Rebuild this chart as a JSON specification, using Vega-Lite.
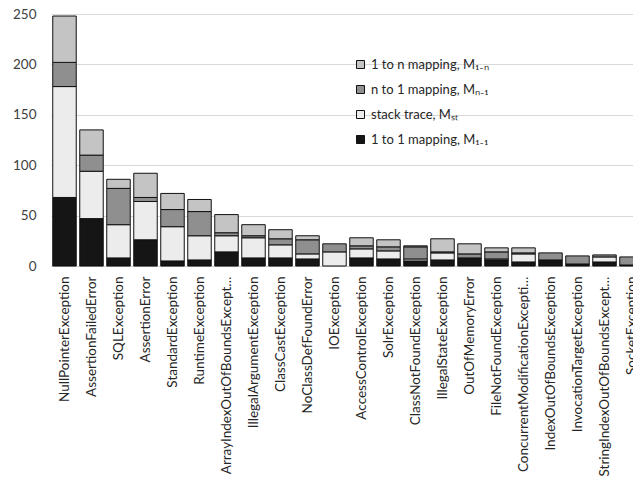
{
  "$schema": "https://vega.github.io/schema/vega-lite/v6.json",
  "autosize": "none",
  "padding": {"left": 51, "top": 14, "right": 0, "bottom": 218},
  "width": 594,
  "height": 252,
  "background": "white",
  "config": {
    "view": {"stroke": null},
    "font": "Lato",
    "axis": {"labelFont": "Lato", "labelColor": "#262626"}
  },
  "data": {
    "values": [
      {"e": "NullPointerException", "t": "1 to 1 mapping, M₁₋₁", "v": 68},
      {"e": "NullPointerException", "t": "stack trace, Mₛₜ", "v": 110},
      {"e": "NullPointerException", "t": "n to 1 mapping, Mₙ₋₁", "v": 24},
      {"e": "NullPointerException", "t": "1 to n mapping, M₁₋ₙ", "v": 46},
      {"e": "AssertionFailedError", "t": "1 to 1 mapping, M₁₋₁", "v": 47},
      {"e": "AssertionFailedError", "t": "stack trace, Mₛₜ", "v": 47},
      {"e": "AssertionFailedError", "t": "n to 1 mapping, Mₙ₋₁", "v": 16},
      {"e": "AssertionFailedError", "t": "1 to n mapping, M₁₋ₙ", "v": 25},
      {"e": "SQLException", "t": "1 to 1 mapping, M₁₋₁", "v": 8},
      {"e": "SQLException", "t": "stack trace, Mₛₜ", "v": 33},
      {"e": "SQLException", "t": "n to 1 mapping, Mₙ₋₁", "v": 36},
      {"e": "SQLException", "t": "1 to n mapping, M₁₋ₙ", "v": 9},
      {"e": "AssertionError", "t": "1 to 1 mapping, M₁₋₁", "v": 26},
      {"e": "AssertionError", "t": "stack trace, Mₛₜ", "v": 38},
      {"e": "AssertionError", "t": "n to 1 mapping, Mₙ₋₁", "v": 4},
      {"e": "AssertionError", "t": "1 to n mapping, M₁₋ₙ", "v": 24},
      {"e": "StandardException", "t": "1 to 1 mapping, M₁₋₁", "v": 5},
      {"e": "StandardException", "t": "stack trace, Mₛₜ", "v": 34},
      {"e": "StandardException", "t": "n to 1 mapping, Mₙ₋₁", "v": 17},
      {"e": "StandardException", "t": "1 to n mapping, M₁₋ₙ", "v": 16},
      {"e": "RuntimeException", "t": "1 to 1 mapping, M₁₋₁", "v": 6},
      {"e": "RuntimeException", "t": "stack trace, Mₛₜ", "v": 24},
      {"e": "RuntimeException", "t": "n to 1 mapping, Mₙ₋₁", "v": 24},
      {"e": "RuntimeException", "t": "1 to n mapping, M₁₋ₙ", "v": 12},
      {"e": "ArrayIndexOutOfBoundsException", "t": "1 to 1 mapping, M₁₋₁", "v": 14},
      {"e": "ArrayIndexOutOfBoundsException", "t": "stack trace, Mₛₜ", "v": 16},
      {"e": "ArrayIndexOutOfBoundsException", "t": "n to 1 mapping, Mₙ₋₁", "v": 3},
      {"e": "ArrayIndexOutOfBoundsException", "t": "1 to n mapping, M₁₋ₙ", "v": 18},
      {"e": "IllegalArgumentException", "t": "1 to 1 mapping, M₁₋₁", "v": 8},
      {"e": "IllegalArgumentException", "t": "stack trace, Mₛₜ", "v": 20},
      {"e": "IllegalArgumentException", "t": "n to 1 mapping, Mₙ₋₁", "v": 2},
      {"e": "IllegalArgumentException", "t": "1 to n mapping, M₁₋ₙ", "v": 11},
      {"e": "ClassCastException", "t": "1 to 1 mapping, M₁₋₁", "v": 8},
      {"e": "ClassCastException", "t": "stack trace, Mₛₜ", "v": 13},
      {"e": "ClassCastException", "t": "n to 1 mapping, Mₙ₋₁", "v": 6},
      {"e": "ClassCastException", "t": "1 to n mapping, M₁₋ₙ", "v": 9},
      {"e": "NoClassDefFoundError", "t": "1 to 1 mapping, M₁₋₁", "v": 7},
      {"e": "NoClassDefFoundError", "t": "stack trace, Mₛₜ", "v": 5},
      {"e": "NoClassDefFoundError", "t": "n to 1 mapping, Mₙ₋₁", "v": 14},
      {"e": "NoClassDefFoundError", "t": "1 to n mapping, M₁₋ₙ", "v": 4},
      {"e": "IOException", "t": "stack trace, Mₛₜ", "v": 14},
      {"e": "IOException", "t": "n to 1 mapping, Mₙ₋₁", "v": 8},
      {"e": "AccessControlException", "t": "1 to 1 mapping, M₁₋₁", "v": 8},
      {"e": "AccessControlException", "t": "stack trace, Mₛₜ", "v": 9},
      {"e": "AccessControlException", "t": "n to 1 mapping, Mₙ₋₁", "v": 3},
      {"e": "AccessControlException", "t": "1 to n mapping, M₁₋ₙ", "v": 8},
      {"e": "SolrException", "t": "1 to 1 mapping, M₁₋₁", "v": 7},
      {"e": "SolrException", "t": "stack trace, Mₛₜ", "v": 8},
      {"e": "SolrException", "t": "n to 1 mapping, Mₙ₋₁", "v": 4},
      {"e": "SolrException", "t": "1 to n mapping, M₁₋ₙ", "v": 7},
      {"e": "ClassNotFoundException", "t": "1 to 1 mapping, M₁₋₁", "v": 5},
      {"e": "ClassNotFoundException", "t": "stack trace, Mₛₜ", "v": 2},
      {"e": "ClassNotFoundException", "t": "n to 1 mapping, Mₙ₋₁", "v": 12},
      {"e": "ClassNotFoundException", "t": "1 to n mapping, M₁₋ₙ", "v": 1},
      {"e": "IllegalStateException", "t": "1 to 1 mapping, M₁₋₁", "v": 6},
      {"e": "IllegalStateException", "t": "stack trace, Mₛₜ", "v": 7},
      {"e": "IllegalStateException", "t": "n to 1 mapping, Mₙ₋₁", "v": 1},
      {"e": "IllegalStateException", "t": "1 to n mapping, M₁₋ₙ", "v": 13},
      {"e": "OutOfMemoryError", "t": "1 to 1 mapping, M₁₋₁", "v": 8},
      {"e": "OutOfMemoryError", "t": "n to 1 mapping, Mₙ₋₁", "v": 4},
      {"e": "OutOfMemoryError", "t": "1 to n mapping, M₁₋ₙ", "v": 10},
      {"e": "FileNotFoundException", "t": "1 to 1 mapping, M₁₋₁", "v": 6},
      {"e": "FileNotFoundException", "t": "stack trace, Mₛₜ", "v": 1},
      {"e": "FileNotFoundException", "t": "n to 1 mapping, Mₙ₋₁", "v": 7},
      {"e": "FileNotFoundException", "t": "1 to n mapping, M₁₋ₙ", "v": 4},
      {"e": "ConcurrentModificationException", "t": "1 to 1 mapping, M₁₋₁", "v": 4},
      {"e": "ConcurrentModificationException", "t": "stack trace, Mₛₜ", "v": 8},
      {"e": "ConcurrentModificationException", "t": "n to 1 mapping, Mₙ₋₁", "v": 1},
      {"e": "ConcurrentModificationException", "t": "1 to n mapping, M₁₋ₙ", "v": 5},
      {"e": "IndexOutOfBoundsException", "t": "1 to 1 mapping, M₁₋₁", "v": 6},
      {"e": "IndexOutOfBoundsException", "t": "n to 1 mapping, Mₙ₋₁", "v": 7},
      {"e": "InvocationTargetException", "t": "1 to 1 mapping, M₁₋₁", "v": 2},
      {"e": "InvocationTargetException", "t": "n to 1 mapping, Mₙ₋₁", "v": 8},
      {"e": "StringIndexOutOfBoundsException", "t": "1 to 1 mapping, M₁₋₁", "v": 4},
      {"e": "StringIndexOutOfBoundsException", "t": "stack trace, Mₛₜ", "v": 5},
      {"e": "StringIndexOutOfBoundsException", "t": "n to 1 mapping, Mₙ₋₁", "v": 2},
      {"e": "SocketException", "t": "1 to 1 mapping, M₁₋₁", "v": 1},
      {"e": "SocketException", "t": "n to 1 mapping, Mₙ₋₁", "v": 8}
    ]
  },
  "transform": [
    {"calculate": "indexof(['1 to 1 mapping, M₁₋₁', 'stack trace, Mₛₜ', 'n to 1 mapping, Mₙ₋₁', '1 to n mapping, M₁₋ₙ'], datum.t)", "as": "k"}
  ],
  "mark": {"type": "bar", "stroke": "#111111", "strokeWidth": 1},
  "encoding": {
    "x": {
      "field": "e",
      "type": "nominal",
      "sort": null,
      "title": null,
      "scale": {"paddingInner": 0.13, "paddingOuter": 0.065},
      "axis": {
        "labelAngle": -90,
        "labelFontSize": 13.5,
        "labelPadding": 10,
        "labelLimit": 200,
        "ticks": false,
        "tickSize": 0,
        "domainColor": "#c8c8c8",
        "domainWidth": 1
      }
    },
    "y": {
      "field": "v",
      "type": "quantitative",
      "stack": "zero",
      "title": null,
      "scale": {"domain": [0, 250]},
      "axis": {
        "values": [0, 50, 100, 150, 200, 250],
        "labelFontSize": 13.5,
        "labelPadding": 15,
        "ticks": false,
        "tickSize": 0,
        "domain": false,
        "gridColor": "#d9d9d9",
        "labelColor": "#404040"
      }
    },
    "order": {"field": "k", "type": "quantitative", "sort": "ascending"},
    "color": {
      "field": "t",
      "type": "nominal",
      "sort": ["1 to n mapping, M₁₋ₙ", "n to 1 mapping, Mₙ₋₁", "stack trace, Mₛₜ", "1 to 1 mapping, M₁₋₁"],
      "scale": {
        "range": ["#c4c4c4", "#8f8f8f", "#ececec", "#151515"]
      },
      "legend": {
        "title": null,
        "orient": "none",
        "legendX": 303,
        "legendY": 44,
        "symbolType": "square",
        "symbolSize": 64,
        "symbolStrokeColor": "#111111",
        "symbolStrokeWidth": 1,
        "labelFontSize": 13,
        "labelColor": "#262626",
        "labelOffset": 4,
        "rowPadding": 11,
        "labelLimit": 300
      }
    }
  }
}
